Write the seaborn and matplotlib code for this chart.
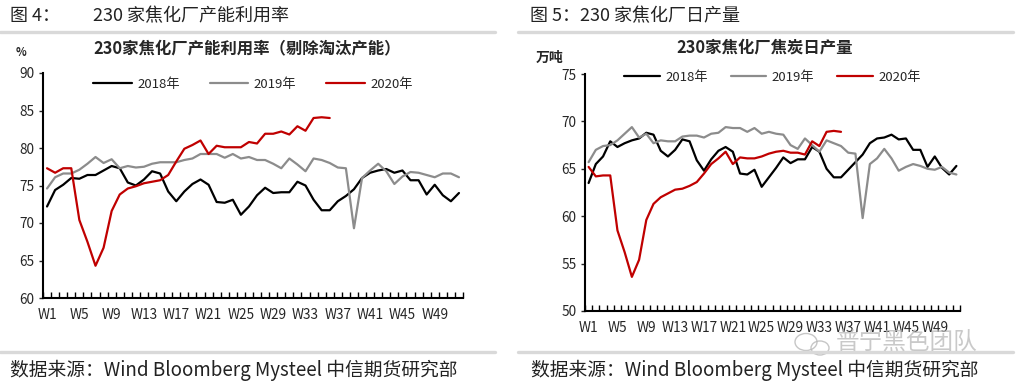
import pandas as pd
import seaborn as sns
import matplotlib.pyplot as plt
import numpy as np
from matplotlib.lines import Line2D
from matplotlib.patches import Ellipse

# Data
weeks = [f'W{i}' for i in range(1, 53)]
years = ['2018年', '2019年', '2020年']

util_2018 = [72.2, 74.4, 75.1, 76.0, 75.9, 76.4, 76.4, 77.0, 77.6, 77.3,
             75.4, 75.0, 75.8, 76.9, 76.6, 74.2, 72.9, 74.2, 75.2, 75.8,
             75.1, 72.8, 72.7, 73.1, 71.1, 72.2, 73.7, 74.7, 74.0, 74.1,
             74.1, 75.5, 75.0, 73.1, 71.7, 71.7, 72.9, 73.6, 74.5, 76.0,
             76.7, 77.0, 77.2, 76.7, 77.0, 75.7, 75.7, 73.8, 75.1, 73.7,
             72.9, 74.0]
util_2019 = [74.6, 76.1, 76.6, 76.6, 77.1, 77.9, 78.8, 78.0, 78.5, 77.3,
             77.6, 77.4, 77.5, 77.9, 78.1, 78.1, 78.1, 78.4, 78.6, 79.2,
             79.2, 79.2, 78.7, 79.2, 78.6, 78.8, 78.4, 78.4, 77.9, 77.3,
             78.6, 77.8, 76.9, 78.6, 78.4, 78.0, 77.4, 77.3, 69.3, 76.0,
             77.0, 77.9, 76.9, 75.2, 76.2, 76.8, 76.7, 76.4, 76.1, 76.6,
             76.6, 76.1]
util_2020 = [77.3, 76.7, 77.3, 77.3, 70.4, 67.5, 64.3, 66.7, 71.6, 73.8,
             74.6, 74.9, 75.3, 75.5, 75.7, 76.4, 78.2, 79.9, 80.4, 81.0,
             79.2, 80.3, 80.1, 80.1, 80.1, 80.8, 80.6, 81.9, 81.9, 82.2,
             81.8, 82.9, 82.3, 84.0, 84.1, 84.0]

coke_2018 = [63.5, 65.5, 66.3, 67.9, 67.3, 67.7, 68.0, 68.2, 68.8, 68.6,
             66.9, 66.3, 67.0, 68.1, 67.9, 65.9, 64.8, 66.0, 66.9, 67.3,
             66.8, 64.5, 64.4, 64.9, 63.1, 64.1, 65.1, 66.2, 65.6, 66.0,
             66.0, 67.3, 66.8, 65.0, 64.1, 64.1, 64.9, 65.7, 66.5, 67.7,
             68.2, 68.3, 68.6, 68.1, 68.2, 67.0, 67.0, 65.2, 66.3, 65.1,
             64.4, 65.3]
coke_2019 = [65.7, 67.0, 67.4, 67.5, 68.0, 68.7, 69.4, 68.3, 68.7, 67.7,
             68.0, 67.9, 67.9, 68.4, 68.5, 68.5, 68.3, 68.7, 68.8, 69.4,
             69.3, 69.3, 68.9, 69.3, 68.7, 68.9, 68.7, 68.6, 67.5, 67.1,
             68.2, 67.5, 66.8, 68.0, 67.7, 67.4, 66.7, 66.6, 59.8, 65.5,
             66.1, 67.1, 66.1, 64.8, 65.2, 65.5, 65.3, 65.0, 64.9, 65.2,
             64.6, 64.4]
coke_2020 = [65.2, 64.2, 64.3, 64.3, 58.5, 56.2, 53.6, 55.4, 59.6, 61.3,
             62.0, 62.4, 62.8, 62.9, 63.2, 63.6, 64.5, 65.5, 66.1, 66.8,
             65.5, 66.2, 66.1, 66.1, 66.3, 66.6, 66.8, 66.9, 66.7, 66.7,
             66.5, 67.9, 67.4, 68.9, 69.0, 68.9]

colors = ['#000000', '#8c8c8c', '#c00000']

sns.set_style('white')
plt.rcParams['font.family'] = ['Noto Sans CJK SC', 'DejaVu Sans']

W, H = 1016, 384
fig = plt.figure(figsize=(W / 100, H / 100), dpi=100)


def fx(x):
    return x / W


def fy(y):
    return 1 - y / H


def long_df(series):
    rows = []
    for yr, vals in zip(years, series):
        for i, v in enumerate(vals):
            rows.append({'week': i, 'value': v, 'year': yr})
    return pd.DataFrame(rows)


def draw_panel(box, series, ylim, yticks, legend_y, hlen, cspace):
    l, t, r, b = box
    ax = fig.add_axes([fx(l), fy(b), fx(r) - fx(l), fy(t) - fy(b)])
    df = long_df(series)
    sns.lineplot(data=df, x='week', y='value', hue='year', palette=colors,
                 linewidth=1.6, ax=ax, legend=False)
    ax.set_xlim(-0.5, 51.5)
    ax.set_ylim(*ylim)
    ax.set_yticks(yticks)
    ax.set_xticks(range(0, 52, 4))
    ax.set_xticklabels(weeks[::4])
    ax.set_xticks(np.arange(-0.5, 52, 1), minor=True)
    ax.tick_params(axis='x', which='major', length=0, pad=7, labelsize=9.8)
    ax.tick_params(axis='x', which='minor', direction='in', length=4,
                   width=1, color='black', bottom=True)
    ax.tick_params(axis='y', direction='out', length=3, width=1,
                   left=True, labelsize=9.8, pad=3)
    ax.set_xlabel('')
    ax.set_ylabel('')
    for s in ['top', 'right']:
        ax.spines[s].set_visible(False)
    for s in ['left', 'bottom']:
        ax.spines[s].set_color('black')
        ax.spines[s].set_linewidth(1.5)
    ax.grid(False)
    handles = [Line2D([], [], color=c, lw=1.6) for c in colors]
    ax.legend(handles, years, loc='center', ncol=3, frameon=False,
              bbox_to_anchor=(0.5, legend_y), fontsize=9.5,
              handlelength=hlen, columnspacing=cspace, handletextpad=0.4)
    return ax


draw_panel((43, 73, 463, 298), [util_2018, util_2019, util_2020],
           (60, 90), range(60, 91, 5), 0.95, 2.9, 2.3)
draw_panel((585, 74, 960, 311), [coke_2018, coke_2019, coke_2020],
           (50, 75), range(50, 76, 5), 0.985, 2.7, 1.75)

# separators
for x0, x1 in [(0, 495), (518, 1013)]:
    for y in [32, 352]:
        fig.add_artist(Line2D([fx(x0), fx(x1)], [fy(y), fy(y)],
                              color='#d9d9d9', lw=2.4))

# headers
hdr = dict(fontsize=13, color='#222222', va='center')
fig.text(fx(10), fy(16), '图 4：', **hdr)
fig.text(fx(93), fy(16), '230 家焦化厂产能利用率', **hdr)
fig.text(fx(530), fy(16), '图 5：230 家焦化厂日产量', **hdr)

# chart titles and units
fig.text(fx(93), fy(48), '230家焦化厂产能利用率（剔除淘汰产能）',
         fontsize=11.8, fontweight='bold', va='center')
fig.text(fx(676), fy(48), '230家焦化厂焦炭日产量',
         fontsize=11.8, fontweight='bold', va='center')
fig.text(fx(16), fy(52), '%', fontsize=8, fontweight='bold', va='center')
fig.text(fx(536), fy(58), '万吨', fontsize=10, fontweight='bold', va='center')

# footers
ftr = dict(fontsize=13.5, color='#222222', va='center')
fig.text(fx(10), fy(370), '数据来源：Wind Bloomberg Mysteel 中信期货研究部', **ftr)
fig.text(fx(531), fy(370), '数据来源：Wind Bloomberg Mysteel 中信期货研究部', **ftr)

# watermark (wechat-style bubbles + text)
wm = '#b8b8b8'
fig.add_artist(Ellipse((fx(806), fy(342)), fx(22), 17 / H, fill=False,
                       edgecolor=wm, lw=1, alpha=0.8))
fig.add_artist(Ellipse((fx(820), fy(348)), fx(18), 14 / H, fill=False,
                       edgecolor=wm, lw=1, alpha=0.8))
fig.text(fx(836), fy(342), '普宁黑色团队', fontsize=17, color=wm,
         alpha=0.75, va='center')

fig.savefig('out.png', dpi=100)
